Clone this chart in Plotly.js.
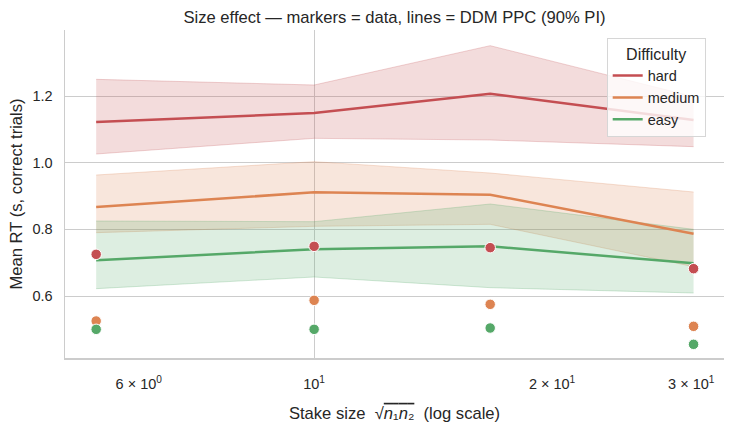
<!DOCTYPE html>
<html>
<head>
<meta charset="utf-8">
<script src="https://cdn.plot.ly/plotly-3.0.1.min.js"></script>
<style>html,body{margin:0;padding:0;background:#fff;}#chart{width:734px;height:434px;}</style>
</head>
<body>
<div id="chart"></div>
<script>
// ---- data ----
const stake = [5.3, 10, 16.7, 30.2];
const levels = ["hard", "medium", "easy"];
const colors = {hard: "#c44e52", medium: "#dd8452", easy: "#55a868"};
const fills = {hard: "rgba(196,78,82,0.2)", medium: "rgba(221,132,82,0.2)", easy: "rgba(85,168,104,0.2)"};
const edges = {hard: "rgba(196,78,82,0.25)", medium: "rgba(221,132,82,0.25)", easy: "rgba(85,168,104,0.25)"};

const ppcHard   = [1.122, 1.149, 1.207, 1.128];
const ppcMedium = [0.867, 0.911, 0.904, 0.787];
const ppcEasy   = [0.707, 0.740, 0.749, 0.698];

const loHard   = [1.026, 1.073, 1.068, 1.048];
const hiHard   = [1.250, 1.233, 1.351, 1.198];
const loMedium = [0.790, 0.809, 0.815, 0.688];
const hiMedium = [0.963, 1.003, 0.969, 0.912];
const loEasy   = [0.622, 0.657, 0.625, 0.609];
const hiEasy   = [0.825, 0.823, 0.876, 0.800];

const obsHard   = [0.725, 0.749, 0.745, 0.682];
const obsMedium = [0.525, 0.587, 0.575, 0.509];
const obsEasy   = [0.500, 0.500, 0.504, 0.455];

const xTickVals = [6, 10, 20, 30];
const xTickText = ["6 × 10<sup>0</sup>", "10<sup>1</sup>", "2 × 10<sup>1</sup>", "3 × 10<sup>1</sup>"];
const yTickVals = [0.6, 0.8, 1.0, 1.2];
const yTickText = ["0.6", "0.8", "1.0", "1.2"];

const ppc = {hard: ppcHard, medium: ppcMedium, easy: ppcEasy};
const lo = {hard: loHard, medium: loMedium, easy: loEasy};
const hi = {hard: hiHard, medium: hiMedium, easy: hiEasy};
const obs = {hard: obsHard, medium: obsMedium, easy: obsEasy};

const traces = [];
levels.forEach(l => {
  traces.push({x: stake, y: lo[l], mode: "lines", line: {color: edges[l], width: 1}, showlegend: false, hoverinfo: "skip"});
  traces.push({x: stake, y: hi[l], mode: "lines", fill: "tonexty", fillcolor: fills[l], line: {color: edges[l], width: 1}, showlegend: false, hoverinfo: "skip"});
});
levels.forEach(l => {
  traces.push({x: stake, y: ppc[l], mode: "lines", name: l, line: {color: colors[l], width: 2.5}, showlegend: true});
});
levels.forEach(l => {
  traces.push({x: stake, y: obs[l], mode: "markers", marker: {color: colors[l], size: 10.5, line: {color: "#ffffff", width: 1}}, showlegend: false});
});

const txt = "#262626";
const fam = "Liberation Sans, Arial, sans-serif";
const layout = {
  width: 734, height: 434,
  margin: {l: 65, r: 10, t: 30, b: 76},
  paper_bgcolor: "#ffffff", plot_bgcolor: "#ffffff",
  font: {family: fam, size: 15, color: txt},
  title: {text: "Size effect — markers = data, lines = DDM PPC (90% PI)", font: {family: fam, size: 16.6, color: txt}, x: 0.5, xref: "paper", y: 1 - 17/434, yref: "container", yanchor: "middle"},
  xaxis: {
    type: "log", range: [Math.log10(4.84), Math.log10(33.0)],
    tickvals: xTickVals, ticktext: xTickText, tickfont: {family: fam, size: 14.5, color: txt},
    showgrid: false, zeroline: false,
    minor: {tickvals: [10], showgrid: true, gridcolor: "#cccccc", gridwidth: 1, ticks: ""},
    showline: true, linecolor: "#cccccc", linewidth: 1.5,
    ticks: "", ticklabelstandoff: 12,
    title: {text: "Stake size  √<span style='text-decoration:overline'><i>n</i>₁<i>n</i>₂</span>  (log scale)", font: {family: fam, size: 16.6, color: txt}, standoff: 16}
  },
  yaxis: {
    range: [0.414, 1.398],
    tickvals: yTickVals, ticktext: yTickText, tickfont: {family: fam, size: 14.5, color: txt},
    showgrid: true, gridcolor: "#cccccc", gridwidth: 1, zeroline: false,
    showline: true, linecolor: "#cccccc", linewidth: 1.5,
    ticks: "", ticklabelstandoff: 8,
    title: {text: "Mean RT (s, correct trials)", font: {family: fam, size: 16.6, color: txt}, standoff: 5}
  },
  legend: {
    x: 0.822, y: 0.976, xanchor: "left", yanchor: "top",
    bgcolor: "rgba(255,255,255,0.8)", bordercolor: "#d6d6d6", borderwidth: 1,
    font: {family: fam, size: 14.5, color: txt}, itemwidth: 30,
    traceorder: "normal",
    title: {text: "Difficulty", side: "top center", font: {family: fam, size: 16, color: txt}},
    tracegroupgap: 0
  }
};

Plotly.newPlot("chart", traces, layout, {displayModeBar: false, staticPlot: true});
</script>
</body>
</html>
